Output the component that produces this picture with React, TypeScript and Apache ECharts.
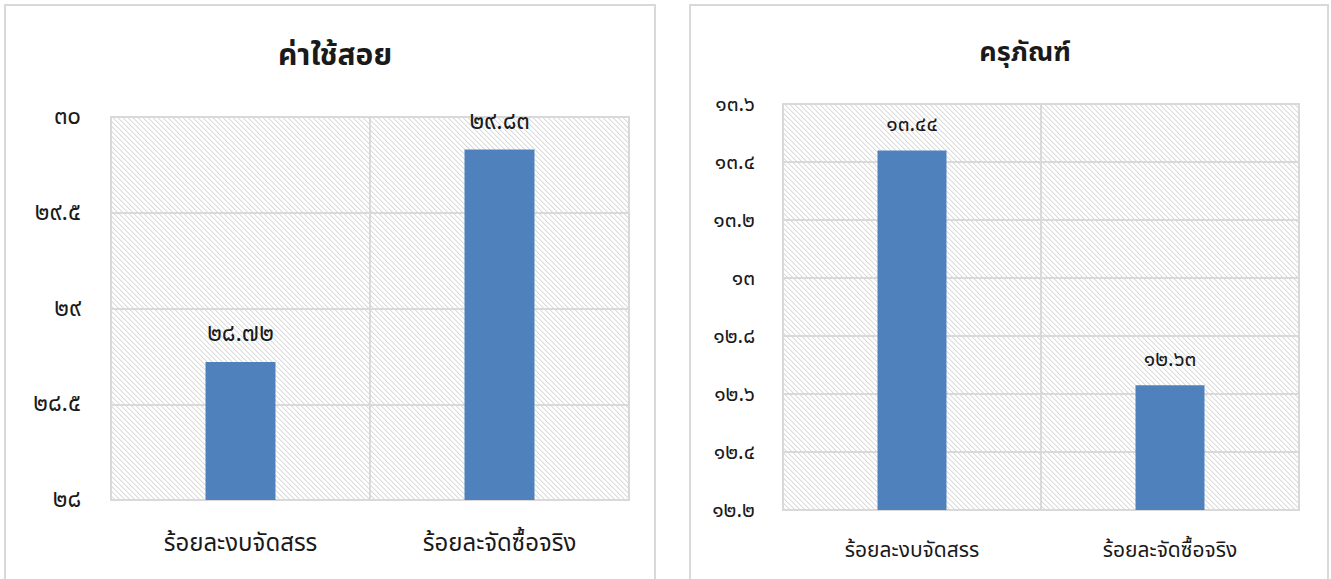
import React, { useEffect, useRef } from "react";
import * as echarts from "echarts";

const categories = ["ร้อยละงบจัดสรร", "ร้อยละจัดซื้อจริง"];
const titleLeft = "ค่าใช้สอย";
const titleRight = "ครุภัณฑ์";
const valuesLeft = [28.72, 29.83];
const valuesRight = [13.44, 12.63];
const ticksLeft = ["๒๘", "๒๘.๕", "๒๙", "๒๙.๕", "๓๐"];
const ticksRight = ["๑๒.๒", "๑๒.๔", "๑๒.๖", "๑๒.๘", "๑๓", "๑๓.๒", "๑๓.๔", "๑๓.๖"];

const THAI = "๐๑๒๓๔๕๖๗๘๙";
const toThai = (s: string) => s.replace(/[0-9]/g, (d) => THAI[+d]);

const FONT = "'Noto Sans Thai', 'Noto Sans Thai UI', Tahoma, 'Noto Sans', sans-serif";
const GRID_C = "#d9d9d9";
const BAR_C = "#4f81bd";
const TEXT_C = "#1a1a1a";

function makePattern() {
  const n = 5;
  const c = document.createElement("canvas");
  c.width = n;
  c.height = n;
  const ctx = c.getContext("2d")!;
  ctx.fillStyle = "#ffffff";
  ctx.fillRect(0, 0, n, n);
  for (let i = 0; i < n; i++) {
    ctx.fillStyle = "#dcdcdc";
    ctx.fillRect(i, i, 1, 1);
    ctx.fillStyle = "#efefef";
    ctx.fillRect((i + 1) % n, i, 1, 1);
  }
  return { image: c, repeat: "repeat" } as any;
}

export default function App() {
  const ref = useRef<HTMLDivElement>(null);
  useEffect(() => {
    document.body.style.margin = "0";
    const chart = echarts.init(ref.current!, null, { renderer: "svg" });
    const pattern = makePattern();
    const mkGrid = (left: number, top: number, width: number, height: number) => ({
      left, top, width, height, show: true, backgroundColor: pattern,
      borderColor: GRID_C, borderWidth: 2,
    });
    const mkX = (gi: number, size: number, margin: number) => ({
      type: "category", gridIndex: gi, data: categories,
      axisLine: { show: true, lineStyle: { color: GRID_C, width: 2 } },
      axisTick: { show: false },
      splitLine: { show: true, lineStyle: { color: GRID_C, width: 2 } },
      axisLabel: { fontSize: size, color: TEXT_C, fontFamily: FONT, margin },
    });
    const mkY = (gi: number, min: number, max: number, interval: number, ticks: string[], size: number, margin: number) => ({
      type: "value", gridIndex: gi, min, max, interval,
      axisLine: { show: false }, axisTick: { show: false },
      splitLine: { show: true, lineStyle: { color: GRID_C, width: 2 } },
      axisLabel: {
        fontSize: size, color: TEXT_C, fontFamily: FONT, margin, fontWeight: "normal",
        formatter: (v: number) => ticks[Math.round((v - min) / interval)] ?? "",
      },
    });
    const mkSeries = (gi: number, data: number[], barWidth: number, size: number, distance: number) => ({
      type: "bar", xAxisIndex: gi, yAxisIndex: gi, data, barWidth,
      itemStyle: { color: BAR_C },
      label: {
        show: true, position: "top", distance, fontSize: size, color: TEXT_C, fontFamily: FONT,
        fontWeight: "normal",
        formatter: (p: any) => toThai(p.value.toFixed(2)),
      },
    });
    chart.setOption({
      animation: false,
      backgroundColor: "#ffffff",
      title: [
        { text: titleLeft, left: 330, top: 36, textAlign: "center",
          textStyle: { fontSize: 30, fontWeight: "bold", color: TEXT_C, fontFamily: FONT } },
        { text: titleRight, left: 1020, top: 34, textAlign: "center",
          textStyle: { fontSize: 27, fontWeight: "bold", color: TEXT_C, fontFamily: FONT } },
      ],
      graphic: [
        { type: "rect", shape: { x: 5, y: 5, width: 650, height: 600 }, style: { fill: "none", stroke: GRID_C, lineWidth: 2 }, silent: true },
        { type: "rect", shape: { x: 690, y: 5, width: 638, height: 600 }, style: { fill: "none", stroke: GRID_C, lineWidth: 2 }, silent: true },
      ],
      grid: [mkGrid(111, 117, 518, 383), mkGrid(783, 104, 516, 406)],
      xAxis: [mkX(0, 24, 32), mkX(1, 21, 30)],
      yAxis: [
        mkY(0, 28, 30, 0.5, ticksLeft, 24, 30),
        mkY(1, 12.2, 13.6, 0.2, ticksRight, 21, 28),
      ],
      series: [mkSeries(0, valuesLeft, 70, 24, 16), mkSeries(1, valuesRight, 69, 21, 15)],
    });
    return () => chart.dispose();
  }, []);
  return <div ref={ref} style={{ width: 1331, height: 579 }} />;
}
